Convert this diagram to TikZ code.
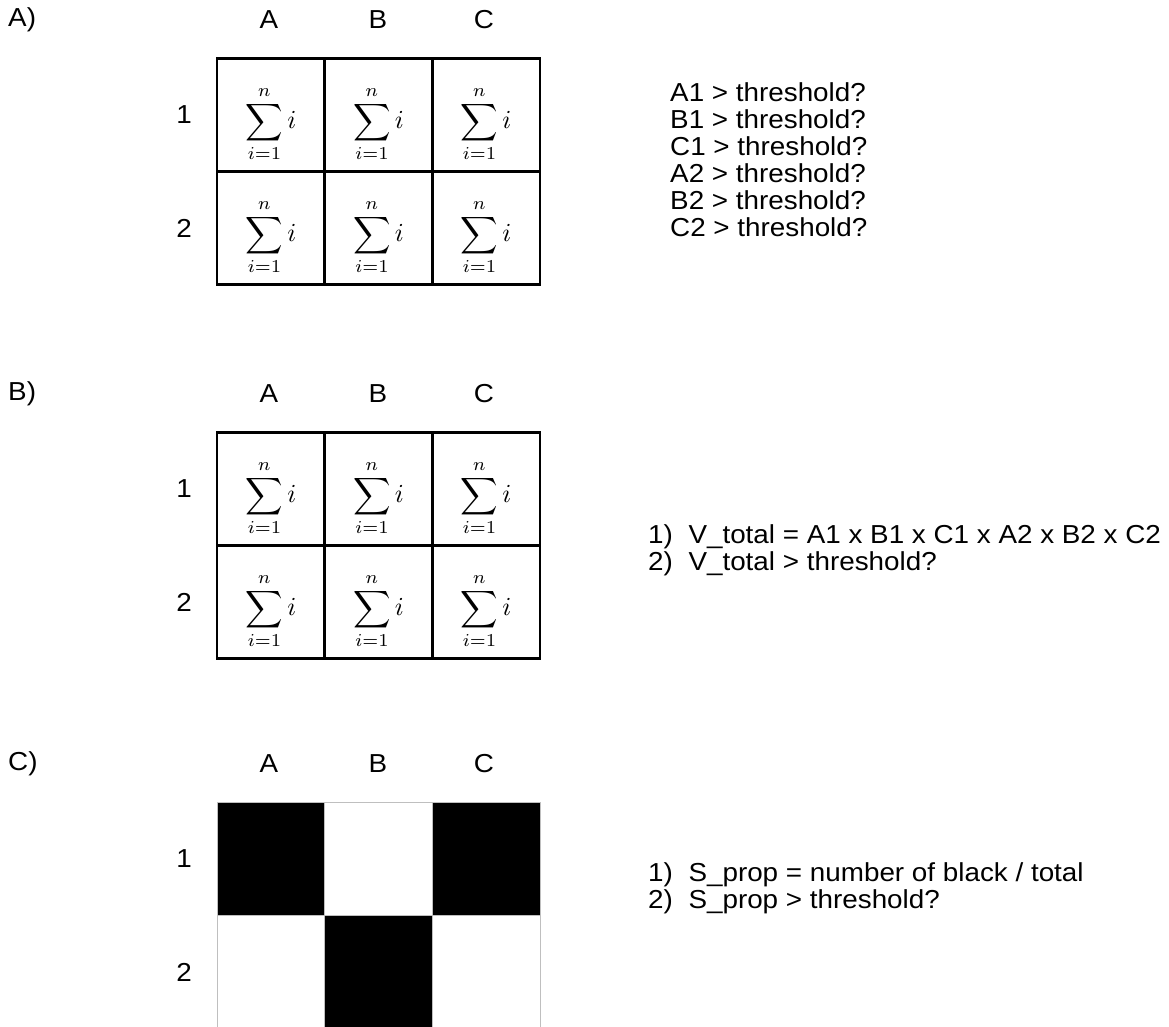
\documentclass[tikz,border=0pt]{standalone}
\usepackage{graphicx}
\usepackage{fontspec}
\setmainfont{Liberation Sans}[FakeStretch=1.07]
\usetikzlibrary{positioning}
\tikzset{
  lbl/.style={font=\fontsize{26}{30}\selectfont, inner sep=0pt},
  cell/.style={rectangle, draw=black, line width=2.5pt, minimum width=108pt,
               minimum height=113pt, inner sep=0pt},
  pix/.style={rectangle, draw=gray!50, line width=1pt, minimum width=108pt,
              minimum height=113pt, inner sep=0pt},
  blk/.style={pix, fill=black},
  wht/.style={pix, fill=white},
  rule/.style={font=\fontsize{26}{27}\selectfont, align=left, inner sep=0pt}
}
\newcommand{\cellsum}{\raisebox{-9pt}[\height][\depth]{\scalebox{2.6}{$\displaystyle\sum_{i=1}^{n} i$}}}

\begin{document}
\begin{tikzpicture}[x=1pt, y=-1pt]
  \useasboundingbox (0,0) rectangle (1169,1027);

  % panel letters and headers
  \foreach \p/\oy in {A/0, B/374, C/744} {
    \node[lbl, anchor=west] (sec\p) at (8,20+\oy) {\p)};
    \node[lbl] (col\p A) at (269,20+\oy) {A};
    \node[lbl] (col\p B) at (378,20+\oy) {B};
    \node[lbl] (col\p C) at (484,20+\oy) {C};
    \node[lbl] (row\p 1) at (184,115+\oy) {1};
    \node[lbl] (row\p 2) at (184,228+\oy) {2};
  }

  % summing grids
  \foreach \p/\oy in {A/0, B/374}
    \foreach \c/\cx in {A/271, B/378.5, C/486}
      \foreach \r/\ry in {1/115, 2/228}
        \node[cell] (\p\c\r) at (\cx,\ry+\oy) {\cellsum};

  % binary grid
  \foreach \c/\r/\cx/\ry/\st in {A/1/271/859/blk, B/1/378.5/859/wht, C/1/486/859/blk,
                                 A/2/271/972/wht, B/2/378.5/972/blk, C/2/486/972/wht}
    \node[\st] (C\c\r) at (\cx,\ry) {};

  % rules
  \node[rule, anchor=north west] (alist) at (670,82) {A1 > threshold?\\B1 > threshold?\\
    C1 > threshold?\\A2 > threshold?\\B2 > threshold?\\C2 > threshold?};
  \node[rule, anchor=west] (vrule) at (648,550)
    {1)\hspace{0.6em}V\_total = A1 x B1 x C1 x A2 x B2 x C2\\2)\hspace{0.6em}V\_total > threshold?};
  \node[rule, anchor=west] (srule) at (648,888)
    {1)\hspace{0.6em}S\_prop = number of black / total\\2)\hspace{0.6em}S\_prop > threshold?};
\end{tikzpicture}
\end{document}
